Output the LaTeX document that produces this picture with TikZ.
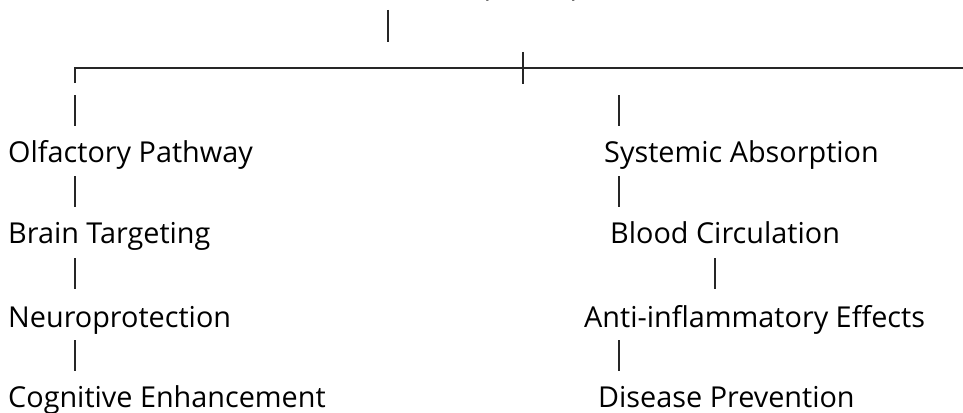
\documentclass[tikz,border=0pt]{standalone}
\usepackage{fontspec}
\setmainfont{Open Sans}
\begin{document}
\begin{tikzpicture}[x=1pt,y=-1pt,
  lbl/.style={anchor=base west,inner sep=0pt,font=\fontsize{28.8}{34}\selectfont,text=black},
  seg/.style={draw=black!85,line width=1.3pt}]
\useasboundingbox (0,0) rectangle (963,412);
% cut-off root label (only parenthesis tails visible)
\node[lbl] (lp) at (481,-3) {(};
\node[lbl] (rp) at (571,-3) {)};
% labels
\node[lbl] (olf) at (8,162) {Olfactory Pathway};
\node[lbl] (bra) at (8,243) {Brain Targeting};
\node[lbl] (neu) at (8,327) {Neuroprotection};
\node[lbl] (cog) at (8,407) {Cognitive Enhancement};
\node[lbl] (sys) at (604,162) {Systemic Absorption};
\node[lbl] (blo) at (610,243) {Blood Circulation};
\node[lbl] (ant) at (584,327) {Anti-inflammatory Effects};
\node[lbl] (dis) at (598,407) {Disease Prevention};
% coordinates of the tree strokes
\coordinate (r1) at (388,10);  \coordinate (r2) at (388,42);
\coordinate (h1) at (75,68);   \coordinate (h2) at (963,68);
\coordinate (c1) at (75,83);
\coordinate (x1) at (523,52);  \coordinate (x2) at (523,84);
\coordinate (a1) at (75,95);   \coordinate (a2) at (75,126);
\coordinate (b1) at (75,176);  \coordinate (b2) at (75,207);
\coordinate (d1) at (75,258);  \coordinate (d2) at (75,289);
\coordinate (e1) at (75,340);  \coordinate (e2) at (75,371);
\coordinate (p1) at (619,95);  \coordinate (p2) at (619,126);
\coordinate (q1) at (619,176); \coordinate (q2) at (619,207);
\coordinate (s1) at (715,258); \coordinate (s2) at (715,289);
\coordinate (t1) at (619,340); \coordinate (t2) at (619,371);
\draw[seg] (r1) -- (r2);
\draw[seg] (c1) -- (h1) -- (h2);
\draw[seg] (x1) -- (x2);
\foreach \u/\v in {a1/a2,b1/b2,d1/d2,e1/e2,p1/p2,q1/q2,s1/s2,t1/t2}
  \draw[seg] (\u) -- (\v);
\end{tikzpicture}
\end{document}
